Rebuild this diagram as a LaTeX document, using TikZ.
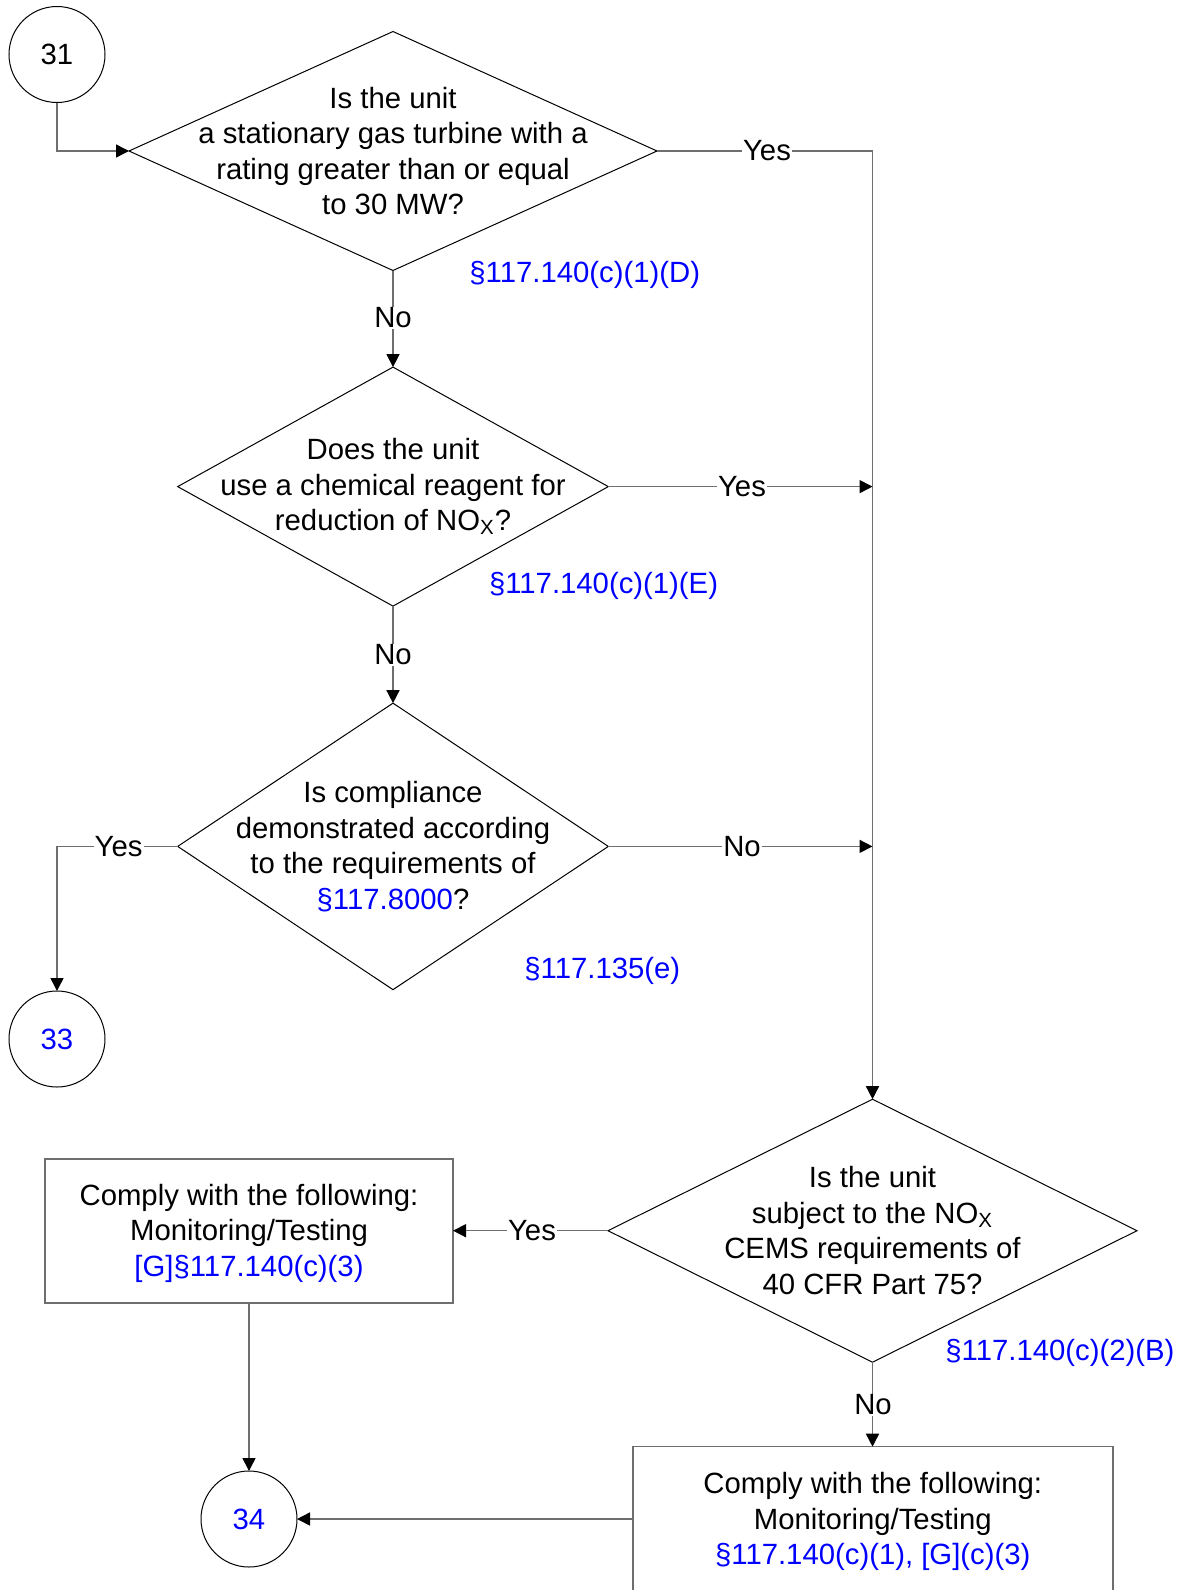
\documentclass[tikz,border=0pt]{standalone}
\usepackage{fontspec}
\setmainfont{Liberation Sans}
\usetikzlibrary{shapes.geometric,arrows.meta}
\definecolor{lnk}{RGB}{0,0,255}
\definecolor{cgray}{RGB}{110,110,110}
\begin{document}
\begin{tikzpicture}[x=0.5pt,y=-0.5pt,
  font=\fontsize{14.65}{17.75}\selectfont,
  dia/.style={diamond, draw=black, line width=0.5pt, inner sep=0pt, outer sep=0pt},
  circ/.style={circle, draw=black, line width=0.5pt, minimum size=48pt, inner sep=0pt, outer sep=0pt},
  boxs/.style={rectangle, draw=cgray, line width=0.75pt, inner sep=0pt, outer sep=0pt},
  txt/.style={align=center, inner sep=0pt},
  lbl/.style={fill=white, inner sep=0.6pt},
  refl/.style={text=lnk, inner sep=0pt, anchor=west},
  wire/.style={draw=cgray, line width=0.75pt},
  arr/.style={wire, -{Triangle[length=6.5pt,width=6.5pt,color=black]}}
]
\useasboundingbox (0,0) rectangle (1184,1590);

% nodes
\node[circ] (c31) at (57,54.5) {31};
\node[dia, minimum width=264pt, minimum height=119.5pt] (d1) at (393,151) {};
\node[txt] (t1) at (d1.center) {Is the unit\\a stationary gas turbine with a\\rating greater than or equal\\to 30 MW?};
\node[dia, minimum width=215.3pt, minimum height=119.5pt] (d2) at (393,486.6) {};
\node[txt] (t2) at (d2.center) {Does the unit\\use a chemical reagent for\\reduction of NO\textsubscript{X}?};
\node[dia, minimum width=215.3pt, minimum height=143.25pt] (d3) at (393,846.4) {};
\node[txt] (t3) at (d3.center) {Is compliance\\demonstrated according\\to the requirements of\\\textcolor{lnk}{§117.8000}?};
\node[dia, minimum width=264.5pt, minimum height=131.5pt] (d4) at (872.5,1230.7) {};
\node[txt] (t4) at (d4.center) {Is the unit\\subject to the NO\textsubscript{X}\\CEMS requirements of\\40 CFR Part 75?};
\node[circ, text=lnk] (c33) at (57,1039) {33};
\node[circ, text=lnk] (c34) at (249,1519) {34};
\node[boxs, minimum width=204pt, minimum height=71.85pt] (b1) at (249,1231) {};
\node[txt] (t5) at ([yshift=-1.2pt]b1.center) {Comply with the following:\\Monitoring/Testing\\\textcolor{lnk}{[G]§117.140(c)(3)}};
\node[boxs, minimum width=240pt, minimum height=74pt] (b2) at (872.75,1520.7) {};
\node[txt] (t6) at ([yshift=-0.6pt]b2.center) {Comply with the following:\\Monitoring/Testing\\\textcolor{lnk}{§117.140(c)(1), [G](c)(3)}};

% connectors
\coordinate (tr) at (d4.north |- d1.east);
\draw[arr] (c31.south) |- (d1.west);
\draw[arr] (d1.east) -- (tr) -- (d4.north);
\draw[arr] (d1.south) -- (d2.north);
\draw[arr] (d2.east) -- (d2.east -| d4.north);
\draw[arr] (d2.south) -- (d3.north);
\draw[arr] (d3.east) -- (d3.east -| d4.north);
\draw[arr] (d3.west) -| (c33.north);
\draw[arr] (d4.west) -- (d4.west -| b1.east);
\draw[arr] (d4.south) -- (d4.south |- b2.north);
\draw[arr] (b1.south) -- (c34.north);
\draw[arr] (c34.east -| b2.west) -- (c34.east);

% connector labels
\node[lbl] (l1) at (767,151) {Yes};
\node[lbl] (l2) at (393,318) {No};
\node[lbl] (l3) at (742,486.6) {Yes};
\node[lbl] (l4) at (393,655) {No};
\node[lbl] (l5) at (742,846.4) {No};
\node[lbl] (l6) at (118.6,846.4) {Yes};
\node[lbl] (l7) at (532,1231) {Yes};
\node[lbl] (l8) at (873,1405) {No};

% references
\node[refl] (r1) at (469,275) {§117.140(c)(1)(D)};
\node[refl] (r2) at (488.6,585.5) {§117.140(c)(1)(E)};
\node[refl] (r3) at (524,970.5) {§117.135(e)};
\node[refl] (r4) at (945,1353) {§117.140(c)(2)(B)};
\end{tikzpicture}
\end{document}
